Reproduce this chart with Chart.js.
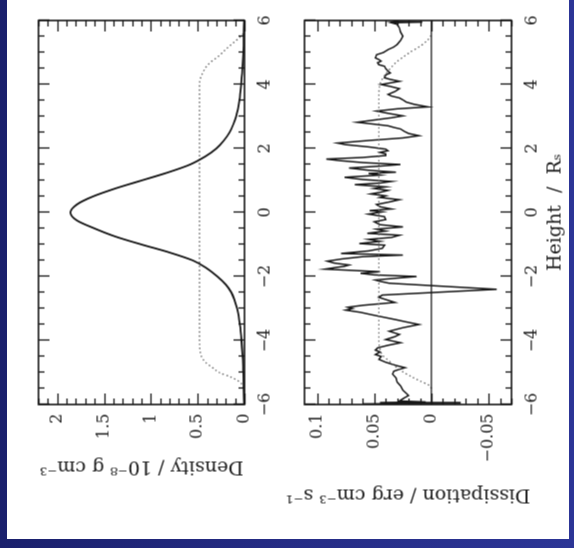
<!DOCTYPE html>
<html><head><meta charset="utf-8">
<script src="https://cdn.jsdelivr.net/npm/chart.js@4.4.1/dist/chart.umd.min.js"></script>
<style>
html,body{margin:0;padding:0;}
body{width:574px;height:548px;overflow:hidden;position:relative;background:linear-gradient(90deg,#1a206c 0%,#252c85 50%,#2c3596 100%);}
#paper{position:absolute;left:7px;top:0;width:562px;height:539px;background:#fff;}
#rot{position:absolute;left:18.5px;top:-11.5px;width:539px;height:562px;transform:rotate(-90deg);transform-origin:50% 50%;}
#rot canvas{position:absolute;left:0;top:0;}
</style></head><body>
<div id="paper"></div>
<div id="rot"><canvas id="c1" width="539" height="562"></canvas><canvas id="c2" width="539" height="562"></canvas></div>
<script>
// ---- data (x = height in R_s) ----
const heightDensity = [-6,-5.5,-5,-4.5,-4,-3.5,-3,-2.75,-2.5,-2.25,-2,-1.75,-1.5,-1.25,-1,-0.75,-0.5,-0.25,0,0.25,0.5,0.75,1,1.25,1.5,1.75,2,2.25,2.5,2.75,3,3.5,4,4.5,5,5.5,6];
const densityGas = [0.005,0.008,0.013,0.02,0.032,0.05,0.08,0.105,0.14,0.2,0.29,0.4,0.55,0.8,1.1,1.38,1.6,1.79,1.86,1.79,1.62,1.38,1.1,0.82,0.58,0.42,0.3,0.22,0.16,0.12,0.09,0.055,0.035,0.022,0.013,0.008,0.005];
const heightDensityRef = [-5.6,-5.45,-5.3,-5.15,-5.0,-4.85,-4.7,-4.5,-4.3,-4.0,0,4.0,4.2,4.4,4.55,4.7,4.9,5.1,5.3,5.45,5.62];
const densityRef = [0,0.01,0.05,0.14,0.27,0.34,0.41,0.46,0.475,0.48,0.48,0.48,0.47,0.44,0.41,0.36,0.27,0.2,0.12,0.06,0];

const heightDiss = [-6.00,-5.98,-5.96,-5.94,-5.92,-5.89,-5.80,-5.72,-5.65,-5.55,-5.42,-5.30,-5.17,-5.05,-4.96,-4.90,-4.85,-4.78,-4.68,-4.59,-4.50,-4.44,-4.36,-4.30,-4.23,-4.15,-4.07,-3.97,-3.88,-3.81,-3.71,-3.60,-3.50,-3.42,-3.35,-3.27,-3.19,-3.12,-3.05,-3.00,-2.96,-2.90,-2.81,-2.72,-2.65,-2.58,-2.40,-2.21,-2.15,-2.11,-2.05,-2.00,-1.95,-1.90,-1.85,-1.80,-1.77,-1.72,-1.68,-1.64,-1.58,-1.52,-1.45,-1.38,-1.33,-1.28,-1.20,-1.12,-1.02,-0.97,-0.90,-0.84,-0.78,-0.71,-0.65,-0.58,-0.52,-0.45,-0.38,-0.29,-0.22,-0.13,-0.05,0.02,0.06,0.11,0.18,0.25,0.32,0.40,0.47,0.52,0.58,0.63,0.69,0.75,0.80,0.87,0.92,0.97,1.03,1.10,1.17,1.22,1.26,1.32,1.39,1.45,1.50,1.56,1.62,1.67,1.72,1.78,1.83,1.88,1.93,1.98,2.05,2.12,2.17,2.25,2.33,2.40,2.47,2.54,2.61,2.66,2.71,2.76,2.82,2.90,2.96,3.02,3.10,3.17,3.24,3.30,3.38,3.45,3.52,3.58,3.64,3.69,3.78,3.87,3.94,4.00,4.05,4.10,4.16,4.21,4.30,4.36,4.42,4.50,4.57,4.62,4.68,4.73,4.78,4.83,4.93,5.00,5.09,5.17,5.25,5.38,5.51,5.64,5.77,5.88,5.93,5.95,5.97,6.00];
const dissipation = [0.030,0.060,-0.025,0.045,0.005,0.028,0.024,0.020,0.022,0.025,0.027,0.030,0.031,0.034,0.033,0.028,0.023,0.031,0.040,0.046,0.044,0.049,0.045,0.049,0.047,0.038,0.027,0.040,0.032,0.028,0.037,0.025,0.011,0.022,0.031,0.042,0.053,0.062,0.075,0.069,0.073,0.060,0.032,0.040,0.046,0.043,-0.057,0.037,0.045,0.049,0.030,0.013,0.050,0.062,0.045,0.075,0.093,0.084,0.076,0.072,0.085,0.091,0.078,0.060,0.025,0.079,0.055,0.043,0.041,0.063,0.045,0.055,0.035,0.028,0.056,0.040,0.048,0.025,0.045,0.050,0.040,0.041,0.055,0.043,0.054,0.035,0.045,0.048,0.038,0.028,0.045,0.040,0.053,0.045,0.038,0.050,0.040,0.067,0.045,0.035,0.060,0.076,0.045,0.055,0.031,0.055,0.072,0.045,0.027,0.060,0.080,0.092,0.060,0.040,0.040,0.045,0.038,0.040,0.055,0.075,0.082,0.055,0.025,0.011,0.020,0.024,0.027,0.033,0.038,0.050,0.065,0.048,0.035,0.025,0.038,0.048,0.030,0.003,0.015,0.022,0.025,0.028,0.035,0.038,0.032,0.028,0.036,0.044,0.036,0.028,0.036,0.041,0.040,0.036,0.038,0.040,0.041,0.046,0.047,0.044,0.046,0.049,0.048,0.042,0.038,0.033,0.030,0.027,0.025,0.027,0.028,0.030,0.035,0.008,0.033,0.030];
const heightDissRef = [-5.5,-5.4,-5.25,-5.1,-5.0,-4.8,-4.64,-4.45,-4.27,-4.0,0,3.6,4.0,4.28,4.5,4.69,4.85,5.0,5.22,5.4,5.55];
const dissipationRef = [0,0.002,0.011,0.019,0.024,0.032,0.037,0.043,0.045,0.046,0.046,0.046,0.045,0.041,0.036,0.031,0.025,0.019,0.009,0.003,0];
const zeroLineH = [-6, 6];
const zeroLineV = [0, 0];

const heightTickLabels = {'-6':'−6','-4':'−4','-2':'−2','0':'0','2':'2','4':'4','6':'6'};
const densityTickLabels = {'0':'0','5':'0.5','10':'1','15':'1.5','20':'2'};
const dissTickLabels = {'-5':'−0.05','0':'0','5':'0.05','10':'0.1'};

const pts = (xs, ys) => xs.map((x, i) => ({x, y: ys[i]}));
const INK = '#151515';
Chart.defaults.font.family = "'DejaVu Serif', 'Liberation Serif', serif";
Chart.defaults.color = '#1e1e1e';

const frameTicks = {
  id: 'frameTicks',
  afterDatasetsDraw(chart) {
    const {ctx, chartArea: a} = chart;
    ctx.save();
    ctx.strokeStyle = INK;
    ctx.lineWidth = 1.3;
    ctx.lineCap = 'butt';
    const seg = (x1, y1, x2, y2) => { ctx.beginPath(); ctx.moveTo(x1, y1); ctx.lineTo(x2, y2); ctx.stroke(); };
    const isStep = (v, s) => Math.abs(v / s - Math.round(v / s)) < 1e-6;
    const xs = chart.scales.x, ys = chart.scales.y;
    xs.ticks.forEach(t => {
      if (!isStep(t.value, xs.options.ticks.stepSize)) return;
      const p = Math.round(xs.getPixelForValue(t.value)) + 0.5;
      const len = t.label !== '' ? 11 : 6;
      seg(p, a.bottom, p, a.bottom - len);
      seg(p, a.top, p, a.top + len);
    });
    ys.ticks.forEach(t => {
      if (!isStep(t.value, ys.options.ticks.stepSize)) return;
      const p = Math.round(ys.getPixelForValue(t.value)) + 0.5;
      const len = t.label !== '' ? 11 : 6;
      seg(a.left, p, a.left + len, p);
      seg(a.right, p, a.right - len, p);
    });
    ctx.lineWidth = 1.6;
    ctx.strokeRect(a.left, a.top, a.right - a.left, a.bottom - a.top);
    ctx.restore();
  }
};

function xScale(withTitle) {
  return {
    type: 'linear', min: -6, max: 6,
    grid: {display: false, drawTicks: false}, border: {display: false},
    ticks: {stepSize: 0.5, autoSkip: false, maxRotation: 0, minRotation: 0, padding: 11, font: {size: 16},
      callback: v => { const k = Math.round(v * 2); return (k % 4 === 0) ? heightTickLabels[String(k / 2)] : ''; }},
    title: {display: withTitle, text: 'Height  /  Rₛ', font: {size: 19}, padding: {top: 0, bottom: 3}},
    afterFit: s => { s.height = withTitle ? 58 : 30; s.paddingLeft = 0; s.paddingRight = 0; }
  };
}

new Chart(document.getElementById('c1'), {
  type: 'line',
  data: {datasets: [
    {data: pts(heightDensity, densityGas), borderColor: INK, borderWidth: 1.8, pointRadius: 0, cubicInterpolationMode: 'monotone'},
    {data: pts(heightDensityRef, densityRef), borderColor: '#6a6a6a', borderWidth: 1.4, borderDash: [1.5, 2.6], pointRadius: 0, cubicInterpolationMode: 'monotone'}
  ]},
  options: {
    responsive: false, animation: false, devicePixelRatio: 1,
    layout: {padding: {left: 0, top: 31, right: 20, bottom: 295}},
    plugins: {legend: {display: false}, tooltip: {enabled: false}},
    scales: {
      x: xScale(false),
      y: {
        type: 'linear', min: 0, max: 2.2,
        grid: {display: false, drawTicks: false}, border: {display: false},
        ticks: {stepSize: 0.1, autoSkip: false, padding: 9, font: {size: 16},
          callback: v => { const k = Math.round(v * 10); return densityTickLabels[String(k)] || ''; }},
        title: {display: true, text: 'Density / 10⁻⁸ g cm⁻³', font: {size: 19}, padding: {top: 62, bottom: 0}},
        afterFit: s => { s.width = 135; s.paddingTop = 0; s.paddingBottom = 0; }
      }
    }
  },
  plugins: [frameTicks]
});

new Chart(document.getElementById('c2'), {
  type: 'line',
  data: {datasets: [
    {data: pts(zeroLineH, zeroLineV), borderColor: INK, borderWidth: 1.3, pointRadius: 0},
    {data: pts(heightDissRef, dissipationRef), borderColor: '#6a6a6a', borderWidth: 1.4, borderDash: [1.5, 2.6], pointRadius: 0, cubicInterpolationMode: 'monotone'},
    {data: pts(heightDiss, dissipation), borderColor: INK, borderWidth: 1.5, pointRadius: 0, tension: 0}
  ]},
  options: {
    responsive: false, animation: false, devicePixelRatio: 1,
    layout: {padding: {left: 0, top: 297, right: 20, bottom: 0}},
    plugins: {legend: {display: false}, tooltip: {enabled: false}},
    scales: {
      x: xScale(true),
      y: {
        type: 'linear', min: -0.07, max: 0.111,
        grid: {display: false, drawTicks: false}, border: {display: false},
        ticks: {stepSize: 0.01, autoSkip: false, padding: 9, font: {size: 16},
          callback: v => { const k = Math.round(v * 100); return (Math.abs(v * 100 - k) < 1e-6 && dissTickLabels[String(k)]) || ''; }},
        title: {display: true, text: 'Dissipation / erg cm⁻³ s⁻¹', font: {size: 19}, padding: {top: 34, bottom: 0}},
        afterFit: s => { s.width = 135; s.paddingTop = 0; s.paddingBottom = 0; }
      }
    }
  },
  plugins: [frameTicks]
});
</script>
</body></html>
